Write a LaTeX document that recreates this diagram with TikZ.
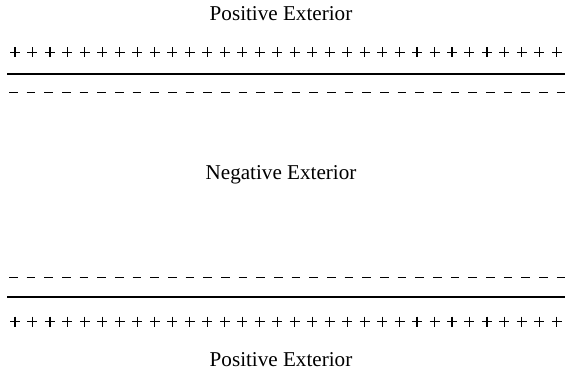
\documentclass[tikz,border=0pt]{standalone}
\usepackage{fontspec}
\setmainfont{Liberation Serif}
\begin{document}
\begin{tikzpicture}[x=1bp,y=-1bp,
  plate/.style={line width=2bp},
  charge/.style={line width=1.1bp},
  lbl/.style={font=\fontsize{21.2}{25}\selectfont, anchor=base, inner sep=0pt}]
\useasboundingbox (0,0) rectangle (568,370);
% labels
\node[lbl] (posTop) at (281,20.5) {Positive Exterior};
\node[lbl] (neg) at (281,179.3) {Negative Exterior};
\node[lbl] (posBot) at (281,366) {Positive Exterior};
% plates
\coordinate (topL) at (7.3,74.3);
\coordinate (topR) at (565,74.3);
\coordinate (botL) at (7.3,296.7);
\coordinate (botR) at (565,296.7);
\draw[plate] (topL) -- (topR);
\draw[plate] (botL) -- (botR);
% charges
\foreach \i in {0,...,31} {
  % top plus row
  \draw[charge] ({15+17.48*\i-5},52.3) -- ++(10,0) ({15+17.48*\i},47.3) -- ++(0,10);
  % top minus row
  \draw[charge] ({13.3+17.67*\i-4.3},92.7) -- ++(8.6,0);
  % bottom minus row
  \draw[charge] ({13.3+17.67*\i-4.3},277.3) -- ++(8.6,0);
  % bottom plus row
  \draw[charge] ({15+17.48*\i-5},321.7) -- ++(10,0) ({15+17.48*\i},316.7) -- ++(0,10);
}
\end{tikzpicture}
\end{document}
